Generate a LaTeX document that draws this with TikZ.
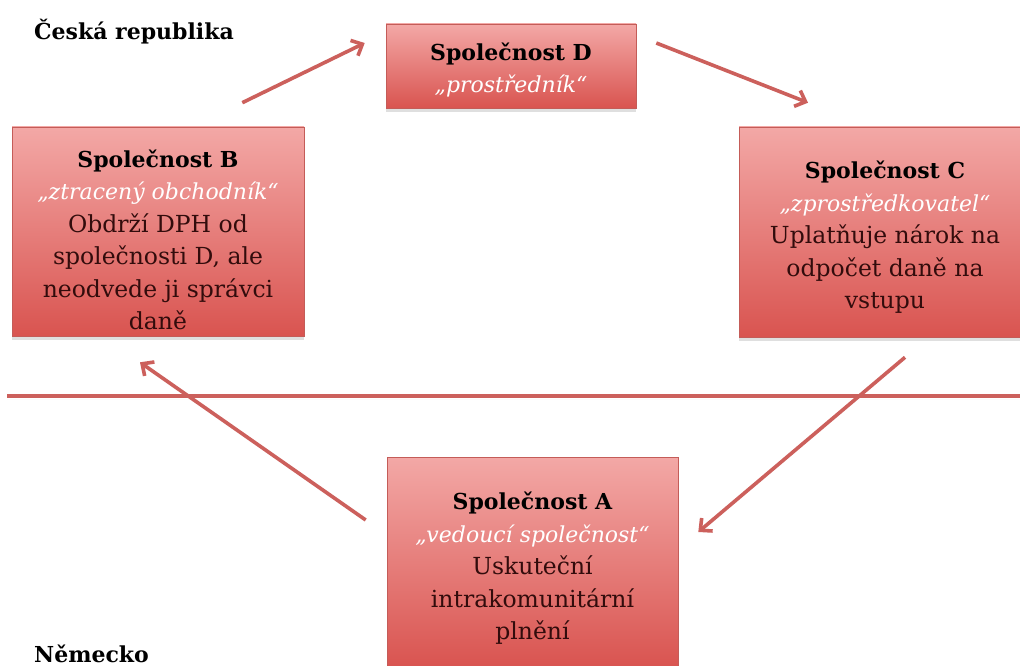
\documentclass[tikz,border=0pt]{standalone}
\usepackage{fontspec}
\setmainfont{DejaVu Serif}
\usetikzlibrary{arrows.meta,shadows,calc}
\definecolor{boxtop}{RGB}{243,168,166}
\definecolor{boxbot}{RGB}{217,84,80}
\definecolor{boxedge}{RGB}{196,92,88}
\definecolor{linkred}{RGB}{204,96,92}
\definecolor{bodytext}{RGB}{50,12,12}
\tikzset{
  firm/.style={rectangle, draw=boxedge, line width=0.6pt,
    top color=boxtop, bottom color=boxbot,
    drop shadow={shadow xshift=0pt, shadow yshift=-4pt, opacity=0.25},
    align=center, text=bodytext, inner sep=0pt,
    font=\fontsize{23.5}{32.5}\selectfont},
  flow/.style={draw=linkred, line width=3.6pt,
    -{Straight Barb[length=9pt,width=17pt,line width=3.6pt]}},
  border/.style={draw=linkred, line width=3.6pt,
    drop shadow={shadow xshift=0pt, shadow yshift=-3pt, opacity=0.2}},
  region/.style={font=\bfseries\fontsize{22}{26}\selectfont, anchor=base west, inner sep=0pt}
}
\newcommand{\firmname}[1]{{\fontsize{22}{32.5}\selectfont\bfseries\color{black}#1}}
\newcommand{\firmrole}[1]{{\fontsize{22}{32.5}\selectfont\itshape\color{white}#1}}
\begin{document}
\begin{tikzpicture}[x=1pt,y=-1pt]
\useasboundingbox[fill=white] (0,0) rectangle (1020,666);

% dividing line between the two countries
\coordinate (lineL) at (7,396);
\coordinate (lineR) at (1030,396);
\path[border] (lineL) -- (lineR);

% the four companies
\node[firm, minimum width=250pt, minimum height=84pt] (D) at (511,66)
  {\rule{0pt}{26pt}\firmname{Společnost D}\\ \firmrole{„prostředník“}};
\node[firm, minimum width=292pt, minimum height=209pt] (B) at (158,231.5)
  {\rule{0pt}{34pt}\firmname{Společnost B}\\ \firmrole{„ztracený obchodník“}\\ Obdrží DPH od\\ společnosti D, ale\\ neodvede ji správci\\ daně};
\node[firm, minimum width=292pt, minimum height=210pt] (C) at (885,232)
  {\rule{0pt}{28pt}\firmname{Společnost C}\\ \firmrole{„zprostředkovatel“}\\ Uplatňuje nárok na\\ odpočet daně na\\ vstupu};
\node[firm, minimum width=291pt, minimum height=210pt] (A) at (532.5,562)
  {\rule{0pt}{30pt}\firmname{Společnost A}\\ \firmrole{„vedoucí společnost“}\\ Uskuteční\\ intrakomunitární\\ plnění};

% country labels
\node[region] (cz) at (34,40) {Česká republika};
\node[region] (de) at (34,662) {Německo};

% flow of the carousel
\draw[flow] ($(B.north east)+(-62,-24)$) -- ($(D.west)+(-21,-23)$);
\draw[flow] ($(D.east)+(20,-23)$) -- ($(C.north)+(-77,-24)$);
\draw[flow] ($(C.south)+(20,20)$) -- ($(A.east)+(20,-30)$);
\draw[flow] ($(A.west)+(-21,-42)$) -- ($(B.south)+(-18,26)$);
\end{tikzpicture}
\end{document}
